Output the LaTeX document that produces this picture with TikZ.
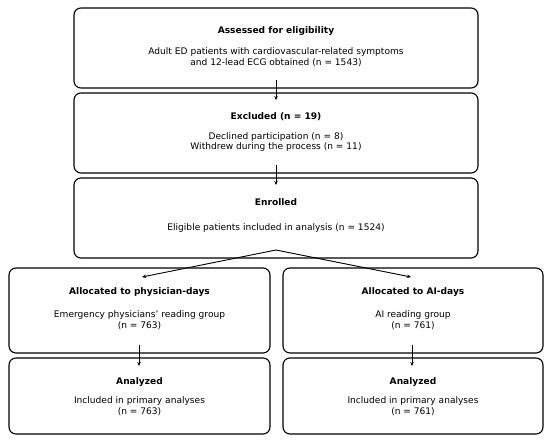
\documentclass[tikz,border=0pt]{standalone}
\usepackage{fontspec}
\setmainfont{DejaVu Sans}
\usetikzlibrary{arrows.meta}
\begin{document}
\begin{tikzpicture}[x=1bp,y=-1bp,
  box/.style={draw,rounded corners=7bp,line width=1.1bp,inner sep=0pt},
  ttl/.style={font=\fontsize{9.1}{11}\selectfont\bfseries,inner sep=0pt,anchor=center},
  txt/.style={font=\fontsize{9.1}{11}\selectfont,inner sep=0pt,align=center,anchor=center},
  arr/.style={line width=0.9bp,-{Stealth[length=4bp,width=3.5bp]}}]
\useasboundingbox (0,0) rectangle (550,442);
\node[box,minimum width=404bp,minimum height=80bp] (b1) at (276,48) {};
\node[box,minimum width=404bp,minimum height=80bp] (b2) at (276,133) {};
\node[box,minimum width=404bp,minimum height=80bp] (b3) at (276,218) {};
\node[box,minimum width=261bp,minimum height=85bp] (b4l) at (139.5,310.5) {};
\node[box,minimum width=260bp,minimum height=85bp] (b4r) at (413,310.5) {};
\node[box,minimum width=261bp,minimum height=76bp] (b5l) at (139.5,396) {};
\node[box,minimum width=260bp,minimum height=76bp] (b5r) at (413,396) {};
\node[ttl] (t1) at (276,31.5) {Assessed for eligibility};
\node[txt] (d1) at (276,57) {Adult ED patients with cardiovascular-related symptoms\\and 12-lead ECG obtained (n = 1543)};
\node[ttl] (t2) at (276,117) {Excluded (n = 19)};
\node[txt] (d2) at (276,142) {Declined participation (n = 8)\\Withdrew during the process (n = 11)};
\node[ttl] (t3) at (276,202.5) {Enrolled};
\node[txt] (d3) at (276,227.5) {Eligible patients included in analysis (n = 1524)};
\node[ttl] (t4l) at (139.5,292.5) {Allocated to physician-days};
\node[txt] (d4l) at (139.5,320) {Emergency physicians’ reading group\\(n = 763)};
\node[ttl] (t4r) at (413,292.5) {Allocated to AI-days};
\node[txt] (d4r) at (413,320) {AI reading group\\(n = 761)};
\node[ttl] (t5l) at (139.5,382.5) {Analyzed};
\node[txt] (d5l) at (139.5,406) {Included in primary analyses\\(n = 763)};
\node[ttl] (t5r) at (413,382.5) {Analyzed};
\node[txt] (d5r) at (413,406) {Included in primary analyses\\(n = 761)};
\coordinate (a1s) at (276,80); \coordinate (a1e) at (276,100);
\coordinate (a2s) at (276,165); \coordinate (a2e) at (276,185);
\coordinate (a3s) at (276,250); \coordinate (a3l) at (142,277); \coordinate (a3r) at (411,277);
\coordinate (a4s) at (139,345); \coordinate (a4e) at (139,366);
\coordinate (a5s) at (412,345); \coordinate (a5e) at (412,366);
\draw[arr] (a1s) -- (a1e);
\draw[arr] (a2s) -- (a2e);
\draw[arr] (a3s) -- (a3l);
\draw[arr] (a3s) -- (a3r);
\draw[arr] (a4s) -- (a4e);
\draw[arr] (a5s) -- (a5e);
\end{tikzpicture}
\end{document}
